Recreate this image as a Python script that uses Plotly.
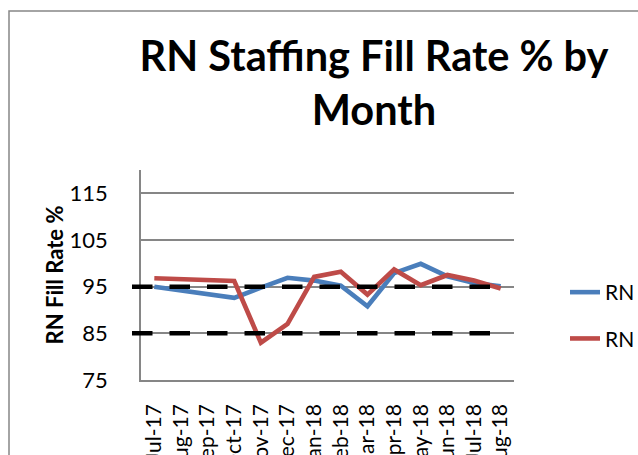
import plotly.graph_objects as go

months = ["Jul-17", "Aug-17", "Sep-17", "Oct-17", "Nov-17", "Dec-17", "Jan-18",
          "Feb-18", "Mar-18", "Apr-18", "May-18", "Jun-18", "Jul-18", "Aug-18"]
rn_blue = [95.0, None, None, 92.6, 94.8, 96.9, 96.3, 95.2, 90.8, 97.9, 99.9, 97.2, 95.8, 95.1]
rn_red = [96.8, None, None, 96.2, 83.0, 87.0, 97.1, 98.2, 93.3, 98.7, 95.3, 97.5, 96.3, 94.6]
series_names = ["RN", "RN"]
target_lines = [95, 85]
y_ticks = [75, 85, 95, 105, 115]

W, H = 638, 455
L, R, T, B = 141, 638 - 514, 170, 455 - 380
PW, PH = W - L - R, H - T - B

def px_x(p):  # page px -> paper x
    return (p - L) / PW

def px_y(p):  # page px -> paper y
    return (H - B - p) / PH

FONT = "Lato"
GRID = "#868686"

fig = go.Figure()
fig.add_trace(go.Scatter(x=months, y=rn_blue, name=series_names[0], mode="lines",
                         connectgaps=True, legendgroup="a",
                         line=dict(color="#4A7EBB", width=4.6)))
fig.add_trace(go.Scatter(x=months, y=rn_red, name=series_names[1], mode="lines",
                         connectgaps=True, legendgroup="b",
                         line=dict(color="#BE4B48", width=4.6)))

shapes = []
for t in target_lines:
    shapes.append(dict(type="line", xref="paper", yref="y",
                       x0=px_x(132), x1=px_x(490), y0=t, y1=t,
                       line=dict(color="black", width=4.5, dash="20.5px,17px"),
                       layer="above"))
# chart border (cropped by the window)
shapes.append(dict(type="rect", xref="paper", yref="paper",
                   x0=px_x(9), x1=px_x(760), y0=px_y(480), y1=px_y(11),
                   line=dict(color=GRID, width=1.5), layer="below"))

fig.update_layout(
    width=W, height=H,
    margin=dict(l=L, r=R, t=T, b=B, autoexpand=False),
    paper_bgcolor="white", plot_bgcolor="white",
    font=dict(family=FONT, color="black", size=22),
    title=dict(text="RN Staffing Fill Rate % by<br>Month",
               font=dict(family=FONT, size=41.5, weight="bold", color="black"),
               x=374 / W, xref="container", xanchor="center",
               y=1 - 71 / H, yref="container", yanchor="top"),
    showlegend=True,
    legend=dict(x=px_x(565), y=px_y(272), xanchor="left", yanchor="top",
                font=dict(family=FONT, size=21), tracegroupgap=16,
                bgcolor="rgba(0,0,0,0)"),
    shapes=shapes,
    xaxis=dict(type="category", categoryorder="array", categoryarray=months,
               range=[-0.5, len(months) - 0.5],
               tickmode="array", tickvals=months, ticktext=months,
               automargin=False,
               showline=True, linecolor=GRID, linewidth=1.5,
               showgrid=False, ticks="", tickangle=-90,
               ticklabelstandoff=14,
               tickfont=dict(family=FONT, size=21)),
    yaxis=dict(range=[75, 120], tickvals=y_ticks, automargin=True,
               showline=True, linecolor=GRID, linewidth=1.5,
               showgrid=True, gridcolor=GRID, gridwidth=1.5,
               zeroline=False, ticks="", ticklabelstandoff=27,
               tickfont=dict(family=FONT, size=22),
               title=dict(text="RN Fill Rate %", standoff=0,
                          font=dict(family=FONT, size=22, weight="bold"))),
)

fig.write_html(
    "out.html",
    config={"displayModeBar": False},
    post_script="document.body.style.margin='0';document.body.style.overflow='hidden';",
)
